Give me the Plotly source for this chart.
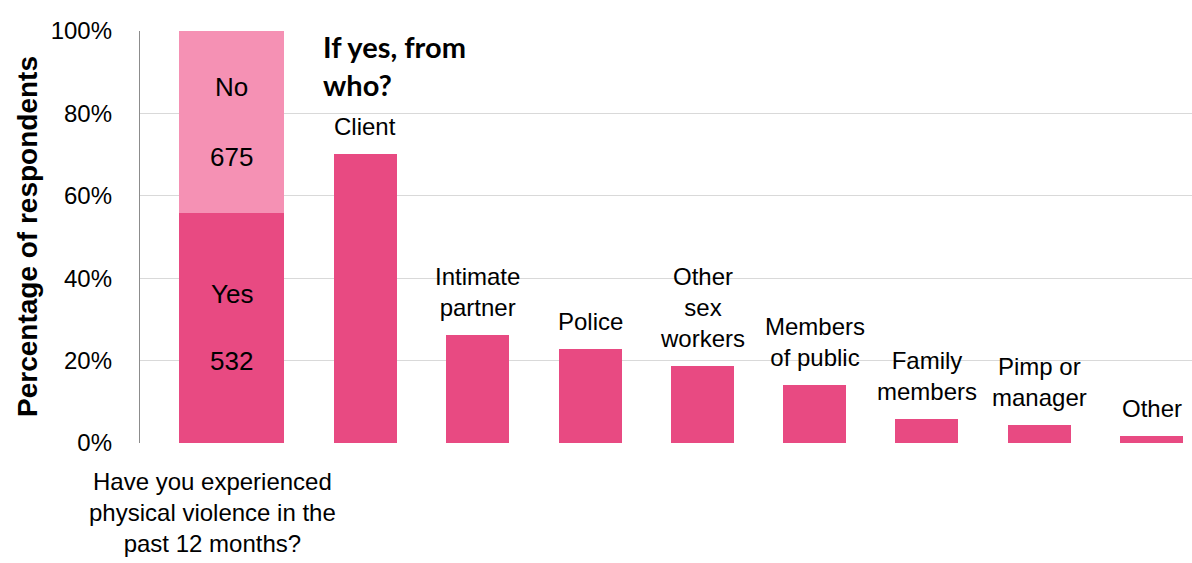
import plotly.graph_objects as go

# ---------------- data ----------------
question = "Have you experienced<br>physical violence in the<br>past 12 months?"
answer_labels = ["Yes", "No"]
answer_counts = [532, 675]
answer_pct = [55.9, 44.1]

perpetrators = ["Client", "Intimate<br>partner", "Police", "Other<br>sex<br>workers",
                "Members<br>of public", "Family<br>members", "Pimp or<br>manager", "Other"]
perpetrator_pct = [70.2, 26.2, 22.9, 18.8, 14.1, 5.9, 4.3, 1.6]

y_ticks = [0, 20, 40, 60, 80, 100]
y_tick_text = [f"{v}%" for v in y_ticks]

# ---------------- style ----------------
DARK = "rgb(232,74,130)"
LIGHT = "rgb(245,145,180)"
FONT = "Liberation Sans, Arial, sans-serif"
cats = ["Q"] + perpetrators

fig = go.Figure()
# stacked yes/no bar (wider, shifted)
fig.add_trace(go.Bar(x=["Q"], y=[answer_pct[0]], marker_color=DARK, width=0.935,
                     offset=-0.661, marker_line_width=0, showlegend=False, hoverinfo="skip"))
fig.add_trace(go.Bar(x=["Q"], y=[answer_pct[1]], marker_color=LIGHT, width=0.935,
                     offset=-0.661, marker_line_width=0, showlegend=False, hoverinfo="skip"))
fig.add_trace(go.Bar(x=perpetrators, y=perpetrator_pct, marker_color=DARK, width=0.561,
                     marker_line_width=0, showlegend=False, hoverinfo="skip"))

ann = []
# inner labels of the stacked bar
yes_v, no_v = answer_pct
inner = [
    (answer_labels[0], yes_v * 0.645),
    (str(answer_counts[0]), yes_v * 0.354),
    (answer_labels[1], yes_v + no_v * 0.69),
    (str(answer_counts[1]), yes_v + no_v * 0.306),
]
for t, yv in inner:
    ann.append(dict(x="Q", y=yv, xref="x", yref="y", text=t, showarrow=False,
                    xshift=-21.7, font=dict(family=FONT, size=26, color="black"),
                    xanchor="center", yanchor="middle"))
# labels above bars
for c, v in zip(perpetrators, perpetrator_pct):
    ann.append(dict(x=c, y=v, xref="x", yref="y", text=c, showarrow=False,
                    yanchor="bottom", xanchor="center", yshift=12,
                    font=dict(family=FONT, size=24, color="black")))
# question label under first bar
ann.append(dict(x="Q", y=0, xref="x", yref="paper", text=question, showarrow=False,
                xanchor="center", yanchor="top", xshift=-41, yshift=-23,
                font=dict(family=FONT, size=24, color="black")))
# "If yes, from who?"
ann.append(dict(x="Client", y=100, xref="x", yref="y", text="If yes, from<br>who?",
                showarrow=False, xanchor="left", yanchor="top", xshift=-44, yshift=4,
                align="left", font=dict(family="Lato, sans-serif", size=29, color="black", weight="bold")))
# y-axis title
ann.append(dict(x=-0.1074, y=0.5, xref="paper", yref="paper", text="<b>Percentage of respondents</b>",
                textangle=-90, showarrow=False, xanchor="center", yanchor="middle",
                font=dict(family=FONT, size=28, color="black")))

fig.update_layout(
    width=1192, height=563,
    margin=dict(l=140, r=0, t=31, b=120),
    paper_bgcolor="white", plot_bgcolor="white",
    barmode="stack", bargap=0,
    annotations=ann,
    xaxis=dict(type="category", categoryorder="array", categoryarray=cats,
               range=[-1.008, 8.36], showticklabels=False, showgrid=False,
               zeroline=False, showline=False, ticks=""),
    yaxis=dict(range=[0, 100], tickvals=y_ticks, ticktext=y_tick_text,
               showgrid=True, gridcolor="#d9d9d9", gridwidth=1.3,
               zeroline=False, showline=True, linecolor="#8c8c8c", linewidth=1.3,
               ticks="", ticklabelstandoff=22,
               tickfont=dict(family=FONT, size=24, color="black")),
)

fig.write_html("out.html")
